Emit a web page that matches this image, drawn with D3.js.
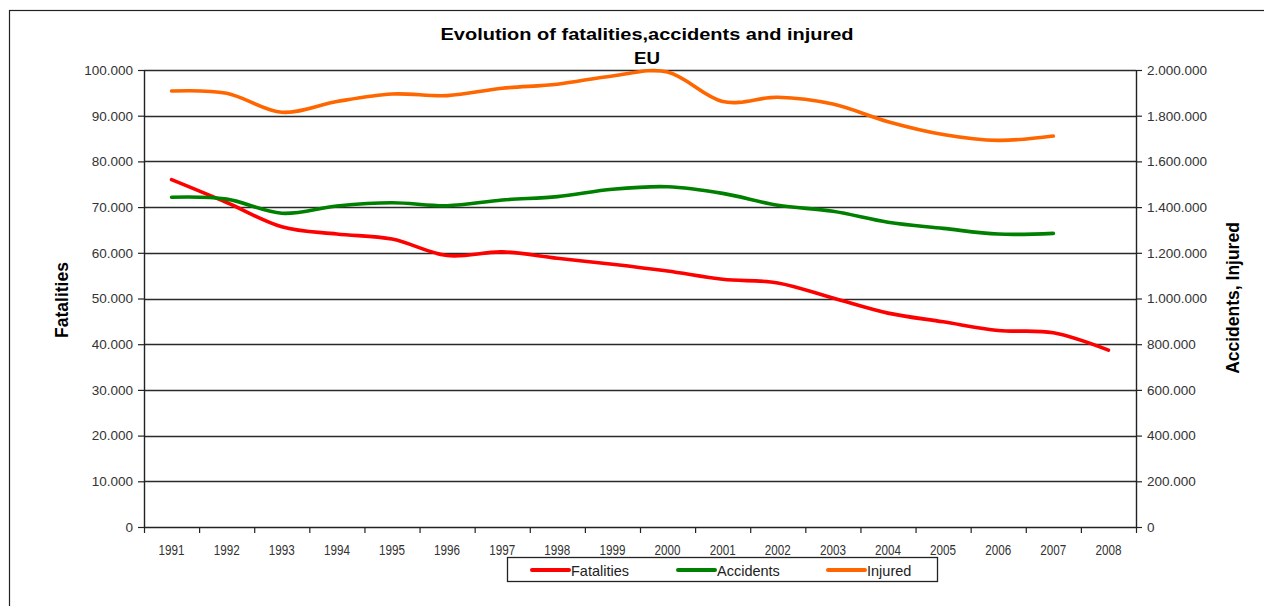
<!DOCTYPE html>
<html>
<head>
<meta charset="utf-8">
<script src="https://cdn.jsdelivr.net/npm/d3@7"></script>
<style>
  body { margin: 0; background: #fff; }
  text { font-family: "Liberation Sans", Arial, sans-serif; }
</style>
</head>
<body>
<div id="chart"></div>
<script>
// data
const years = ['1991', '1992', '1993', '1994', '1995', '1996', '1997', '1998', '1999',
    '2000', '2001', '2002', '2003', '2004', '2005', '2006', '2007', '2008'];
const fatalities = [76000, 71000, 65700, 64100, 63000, 59400, 60200, 58800, 57500,
    56000, 54200, 53400, 50100, 46800, 44900, 43000, 42500, 38700];
const accidents = [1443000, 1435000, 1373000, 1405000, 1419000, 1406000, 1431000, 1446000, 1478000,
    1489000, 1460000, 1408000, 1382000, 1334000, 1307000, 1282000, 1285000];
const injured = [1908000, 1898000, 1815000, 1862000, 1895000, 1888000, 1920000, 1938000, 1974000,
    1991000, 1862000, 1881000, 1851000, 1774000, 1718000, 1692000, 1711000];
const leftTicks = [0, 10000, 20000, 30000, 40000, 50000, 60000, 70000, 80000, 90000, 100000];
const rightTicks = [0, 200000, 400000, 600000, 800000, 1000000, 1200000, 1400000, 1600000, 1800000, 2000000];

const width = 1264, height = 606;
const margin = { top: 70, right: 128, bottom: 79, left: 144 };
const plotW = width - margin.left - margin.right;
const plotH = height - margin.top - margin.bottom;

const svg = d3.select('#chart').append('svg')
    .attr('width', width)
    .attr('height', height);

// outer frame
svg.append('rect')
    .attr('x', 9.5)
    .attr('y', 10.5)
    .attr('width', width)
    .attr('height', height)
    .attr('fill', 'none')
    .attr('stroke', '#222')
    .attr('stroke-width', 1.2);

const x = d3.scaleBand().domain(years).range([0, plotW]);
const xEdge = d3.scaleLinear().domain([0, years.length]).range([0, plotW]);
const yL = d3.scaleLinear().domain([0, 100000]).range([plotH, 0]);
const yR = d3.scaleLinear().domain([0, 2000000]).range([plotH, 0]);

const fmt = v => d3.format(',')(v).replace(/,/g, '.');

const g = svg.append('g')
    .attr('transform', 'translate(' + margin.left + ',' + margin.top + ')');

// gridlines
g.append('g')
    .selectAll('line')
    .data(leftTicks.slice(1))
    .join('line')
    .attr('x1', 0)
    .attr('x2', plotW)
    .attr('y1', d => Math.round(yL(d)) + 0.5)
    .attr('y2', d => Math.round(yL(d)) + 0.5)
    .attr('stroke', '#2a2a2a')
    .attr('stroke-width', 1.3);

function styleAxis(sel) {
    sel.select('.domain').attr('stroke', '#222').attr('stroke-width', 1.4);
    sel.selectAll('.tick line').attr('stroke', '#222').attr('stroke-width', 1.2);
    sel.selectAll('.tick text')
        .attr('fill', '#333')
        .style('font-size', '13.5px');
}

// left axis
g.append('g')
    .call(d3.axisLeft(yL).tickValues(leftTicks).tickFormat(fmt).tickSize(6).tickSizeOuter(0).tickPadding(5))
    .call(styleAxis);

// right axis
g.append('g')
    .attr('transform', 'translate(' + plotW + ',0)')
    .call(d3.axisRight(yR).tickValues(rightTicks).tickFormat(fmt).tickSize(6).tickSizeOuter(0).tickPadding(5))
    .call(styleAxis);

// bottom axis: ticks between categories, labels centered
g.append('g')
    .attr('transform', 'translate(0,' + plotH + ')')
    .call(d3.axisBottom(xEdge).tickValues(d3.range(years.length + 1)).tickFormat('').tickSize(6).tickSizeOuter(0))
    .call(styleAxis);
g.append('g')
    .attr('transform', 'translate(0,' + plotH + ')')
    .call(d3.axisBottom(x).tickSize(0).tickPadding(16))
    .call(sel => sel.select('.domain').remove())
    .call(styleAxis)
    .selectAll('.tick text')
    .attr('transform', 'scale(0.9,1.12)')
    .style('font-size', '13px');

// lines
const cx = (d, i) => x(years[i]) + x.bandwidth() / 2;
const lineL = d3.line().x(cx).y(d => yL(d)).curve(d3.curveCatmullRom.alpha(0));
const lineR = d3.line().x(cx).y(d => yR(d)).curve(d3.curveCatmullRom.alpha(0));

const series = [
    { name: 'Fatalities', values: fatalities, line: lineL, color: '#ff0000' },
    { name: 'Accidents', values: accidents, line: lineR, color: '#008000' },
    { name: 'Injured', values: injured, line: lineR, color: '#ff6600' }
];

g.selectAll('.series')
    .data(series)
    .join('path')
    .attr('class', 'series')
    .attr('d', s => s.line(s.values))
    .attr('fill', 'none')
    .attr('stroke', s => s.color)
    .attr('stroke-width', 3.6)
    .attr('stroke-linecap', 'round')
    .attr('stroke-linejoin', 'round');

// title
svg.append('text')
    .attr('x', 647)
    .attr('y', 40)
    .attr('text-anchor', 'middle')
    .attr('textLength', 413)
    .attr('lengthAdjust', 'spacingAndGlyphs')
    .style('font-size', '17px')
    .style('font-weight', 'bold')
    .text('Evolution of fatalities,accidents and injured');
svg.append('text')
    .attr('x', 647)
    .attr('y', 64)
    .attr('text-anchor', 'middle')
    .attr('textLength', 26)
    .attr('lengthAdjust', 'spacingAndGlyphs')
    .style('font-size', '17px')
    .style('font-weight', 'bold')
    .text('EU');

// axis titles
svg.append('text')
    .attr('transform', 'translate(68,300) rotate(-90)')
    .attr('text-anchor', 'middle')
    .style('font-size', '17.5px')
    .style('font-weight', 'bold')
    .text('Fatalities');
svg.append('text')
    .attr('transform', 'translate(1239,298) rotate(-90)')
    .attr('text-anchor', 'middle')
    .style('font-size', '17.5px')
    .style('font-weight', 'bold')
    .text('Accidents, Injured');

// legend
const legend = svg.append('g');
legend.append('rect')
    .attr('x', 507.5)
    .attr('y', 557.5)
    .attr('width', 430)
    .attr('height', 24)
    .attr('fill', '#fff')
    .attr('stroke', '#222')
    .attr('stroke-width', 1.3);
const legendX = [532, 678, 828];
const item = legend.selectAll('.item')
    .data(series)
    .join('g')
    .attr('class', 'item')
    .attr('transform', (d, i) => 'translate(' + legendX[i] + ',570)');
item.append('line')
    .attr('x1', 0)
    .attr('x2', 37)
    .attr('stroke', d => d.color)
    .attr('stroke-width', 4)
    .attr('stroke-linecap', 'round');
item.append('text')
    .attr('x', 39)
    .attr('y', 5.5)
    .attr('fill', '#222')
    .style('font-size', '14.5px')
    .text(d => d.name);
</script>
</body>
</html>
